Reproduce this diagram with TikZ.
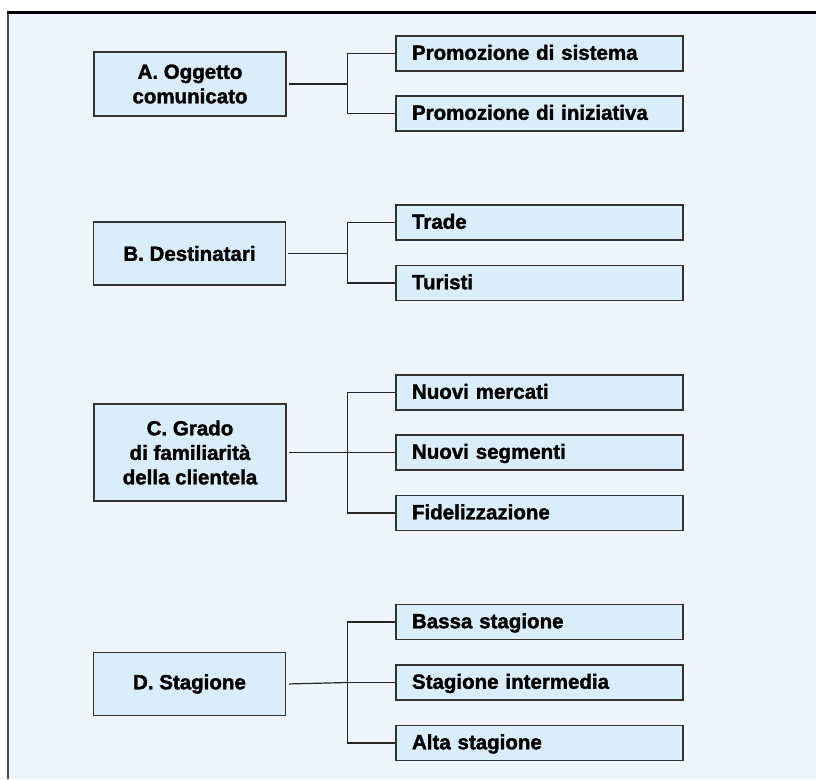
\documentclass[tikz,border=0pt]{standalone}
\usepackage{fontspec}
\setmainfont{Liberation Sans}[BoldFeatures={FakeBold=1.6}]
\definecolor{bgblue}{HTML}{EEF5FC}
\definecolor{boxblue}{HTML}{DAEDFB}
\definecolor{edge}{HTML}{333333}
\begin{document}
\begin{tikzpicture}[x=1pt,y=-1pt,
  every node/.style={font=\fontsize{20.5}{24.5}\selectfont\bfseries, text=black},
  mainbox/.style={draw=edge, line width=1.1pt, fill=boxblue, minimum width=192pt, inner sep=0pt, align=center},
  subbox/.style={draw=edge, line width=1.1pt, fill=boxblue, minimum width=287pt, minimum height=35pt,
     inner xsep=16pt, inner ysep=0pt, text width=255pt, align=left, text height=16.5pt, text depth=4pt},
  conn/.style={draw=black!85, line width=1.2pt}]
\useasboundingbox (0,0) rectangle (816,779);
% frame
\fill[bgblue] (8,13) rectangle (816,779);
\draw[black!70, line width=1.4pt] (8,13) -- (8,779);
\draw[black, line width=3pt] (7.3,12.5) -- (816,12.5);

% A
\node[mainbox, minimum height=64pt] (A) at (190,84) {A. Oggetto\\comunicato};
\node[subbox] (A1) at (539.5,53.5) {Promozione di sistema};
\node[subbox] (A2) at (539.5,113.5) {Promozione di iniziativa};
\coordinate (jA) at (347.5,84);
\draw[conn, shorten <=2pt] (A.east) -- (jA);
\draw[conn] (A1.west) -| (jA);
\draw[conn] (A2.west) -| (jA);

% B
\node[mainbox, minimum height=63pt] (B) at (189.5,253.5) {B. Destinatari};
\node[subbox] (B1) at (539.5,222.5) {Trade};
\node[subbox] (B2) at (539.5,283) {Turisti};
\coordinate (jB) at (347.5,253.5);
\draw[conn, shorten <=2pt] (B.east) -- (jB);
\draw[conn] (B1.west) -| (jB);
\draw[conn] (B2.west) -| (jB);

% C
\node[mainbox, minimum height=97pt] (C) at (190,452.5) {C. Grado\\di familiarità\\della clientela};
\node[subbox] (C1) at (539.5,392.5) {Nuovi mercati};
\node[subbox] (C2) at (539.5,452.5) {Nuovi segmenti};
\node[subbox] (C3) at (539.5,513) {Fidelizzazione};
\coordinate (jC) at (347.5,452.5);
\draw[conn, shorten <=2pt] (C.east) -- (jC);
\draw[conn] (C1.west) -| (jC);
\draw[conn] (C2.west) -- (jC);
\draw[conn] (C3.west) -| (jC);

% D
\node[mainbox, minimum height=63pt] (D) at (189.5,684) {D. Stagione};
\node[subbox] (D1) at (539.5,622) {Bassa stagione};
\node[subbox] (D2) at (539.5,682.5) {Stagione intermedia};
\node[subbox] (D3) at (539.5,743) {Alta stagione};
\coordinate (jD) at (347.5,682.5);
\draw[conn, shorten <=3pt] (D.east) -- (jD);
\draw[conn] (D1.west) -| (jD);
\draw[conn] (D2.west) -- (jD);
\draw[conn] (D3.west) -| (jD);
\end{tikzpicture}
\end{document}
